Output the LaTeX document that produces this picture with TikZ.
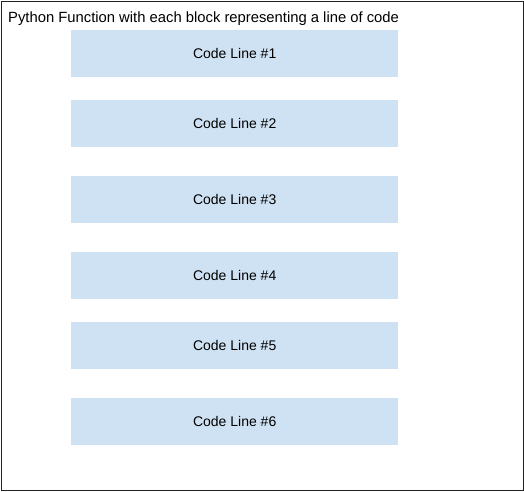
\documentclass[tikz,border=0pt]{standalone}
\usepackage{fontspec}
\setmainfont{Liberation Sans}
\definecolor{boxblue}{HTML}{CFE2F3}
\definecolor{frame}{HTML}{222222}
\begin{document}
\begin{tikzpicture}[x=1pt,y=-1pt,
  codebox/.style={fill=boxblue,draw=none,minimum width=327pt,minimum height=47pt,inner sep=0pt,anchor=north west,font=\fontsize{14}{16}\selectfont,text=black}]
\useasboundingbox (0,0) rectangle (524,491);
\node[draw=frame,line width=1.5pt,minimum width=522pt,minimum height=489pt,inner sep=0pt,anchor=north west] (frame) at (0.75,0.75) {};
\node[anchor=base west,inner sep=0pt,font=\fontsize{14.8}{17}\selectfont] (title) at (8,22.5) {Python Function with each block representing a line of code};
\node[codebox] (l1) at (71,30) {Code Line \#1};
\node[codebox] (l2) at (71,100) {Code Line \#2};
\node[codebox] (l3) at (71,176) {Code Line \#3};
\node[codebox] (l4) at (71,252) {Code Line \#4};
\node[codebox] (l5) at (71,322) {Code Line \#5};
\node[codebox] (l6) at (71,398) {Code Line \#6};
\end{tikzpicture}
\end{document}
